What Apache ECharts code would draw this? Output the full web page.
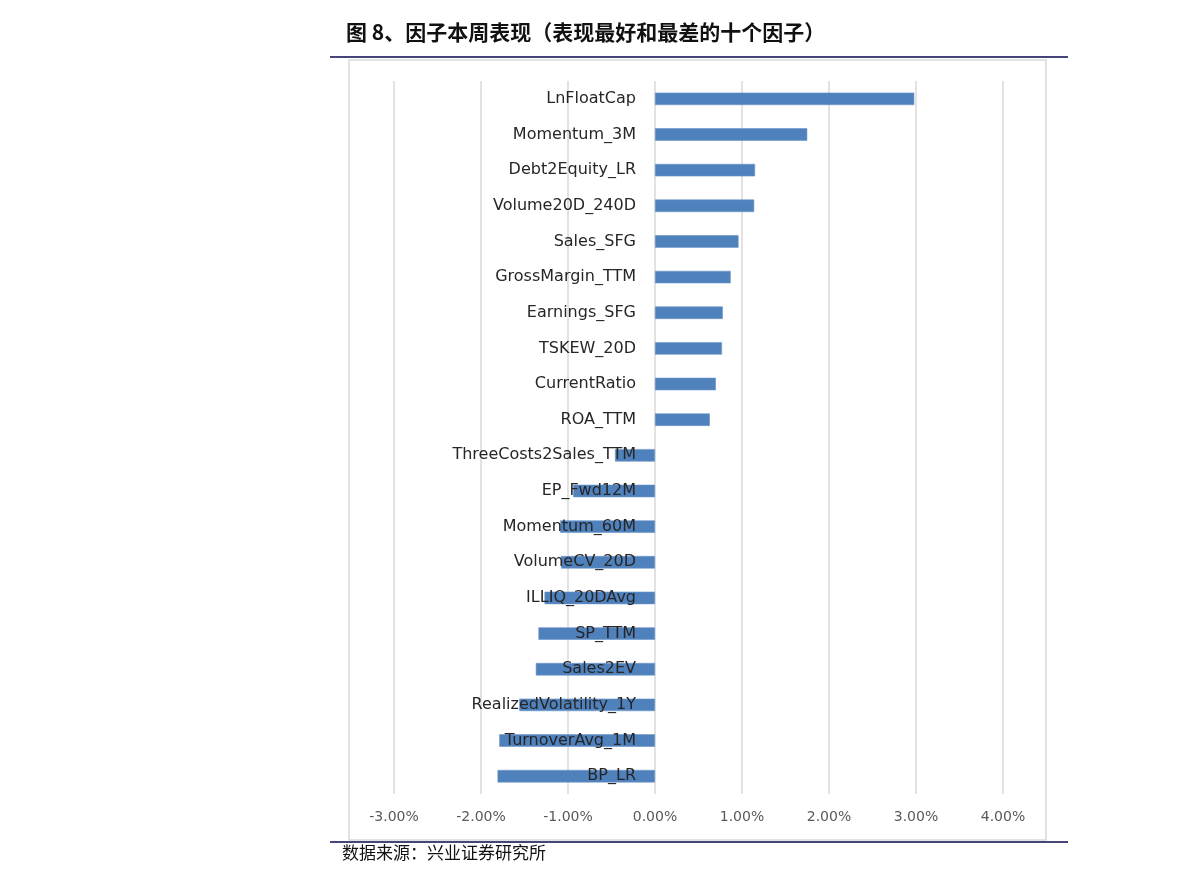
<!DOCTYPE html>
<html>
<head>
<meta charset="utf-8">
<script src="https://cdn.jsdelivr.net/npm/echarts@6/dist/echarts.min.js"></script>
<style>
html,body{margin:0;padding:0;background:#fff;}
#chart{width:1191px;height:882px;}
</style>
</head>
<body>
<div id="chart"></div>
<script>
const titleText = '图 8、因子本周表现（表现最好和最差的十个因子）';
const sourceText = '数据来源：兴业证券研究所';
const categories = ['LnFloatCap','Momentum_3M','Debt2Equity_LR','Volume20D_240D','Sales_SFG','GrossMargin_TTM','Earnings_SFG','TSKEW_20D','CurrentRatio','ROA_TTM','ThreeCosts2Sales_TTM','EP_Fwd12M','Momentum_60M','VolumeCV_20D','ILLIQ_20DAvg','SP_TTM','Sales2EV','RealizedVolatility_1Y','TurnoverAvg_1M','BP_LR'];
// weekly factor returns, in percent
const values = [2.98,1.75,1.15,1.14,0.96,0.87,0.78,0.77,0.70,0.63,-0.46,-0.94,-1.09,-1.08,-1.27,-1.34,-1.37,-1.56,-1.79,-1.81];
const xMin = -3, xMax = 4, xStep = 1;

const gridLeft = 394, gridRight = 188;
const gridWidth = 1191 - gridLeft - gridRight;
// place the category axis at x = 0 of the value axis
const yAxisOffset = -((0 - xMin) / (xMax - xMin)) * gridWidth;

const chart = echarts.init(document.getElementById('chart'), null, {renderer:'canvas'});
chart.setOption({
  backgroundColor:'#ffffff',
  animation:false,
  title:{
    text:titleText,
    left:341, top:17,
    textStyle:{fontFamily:'Noto Sans CJK SC',fontSize:21,fontWeight:'bold',color:'#111'}
  },
  graphic:[
    {type:'rect',shape:{x:349,y:60,width:697,height:780},style:{fill:'none',stroke:'#d9d9d9',lineWidth:1.5},silent:true,z:-1},
    {type:'line',shape:{x1:330,y1:57,x2:1068,y2:57},style:{stroke:'#45457a',lineWidth:2},silent:true},
    {type:'line',shape:{x1:330,y1:842,x2:1068,y2:842},style:{stroke:'#45457a',lineWidth:2},silent:true},
    {type:'text',left:342,top:844,style:{text:sourceText,font:'17px "Noto Sans CJK SC"',fill:'#111'},silent:true}
  ],
  grid:{left:gridLeft,right:gridRight,top:81,bottom:88,containLabel:false},
  xAxis:{
    type:'value',min:xMin,max:xMax,interval:xStep,
    axisLine:{show:false},axisTick:{show:false},
    splitLine:{show:true,lineStyle:{color:'#d9d9d9',width:1.5}},
    axisLabel:{color:'#595959',fontFamily:'DejaVu Sans',fontSize:14,margin:16,
      formatter:function(v){return v.toFixed(2)+'%';}}
  },
  yAxis:{
    type:'category',data:categories,inverse:true,z:5,
    offset:yAxisOffset,
    axisLine:{show:false,onZero:false},axisTick:{show:false},
    axisLabel:{color:'#262626',fontFamily:'DejaVu Sans',fontSize:16,margin:19,padding:[2,0,0,0]}
  },
  series:[{
    type:'bar',data:values,barWidth:12.5,
    itemStyle:{color:'#4f81bd',borderColor:'#6c95c8',borderWidth:0.6}
  }]
});
</script>
</body>
</html>
